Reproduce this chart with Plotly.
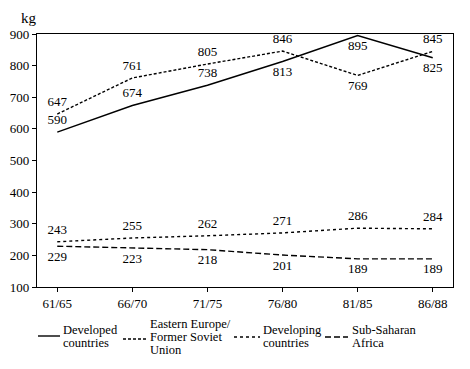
import plotly.graph_objects as go

periods = ["61/65", "66/70", "71/75", "76/80", "81/85", "86/88"]
developed = [590, 674, 738, 813, 895, 825]
eastern_europe = [647, 761, 805, 846, 769, 845]
developing = [243, 255, 262, 271, 286, 284]
sub_saharan = [229, 223, 218, 201, 189, 189]

legend_lines = [
    ["Developed", "countries"],
    ["Eastern Europe/", "Former Soviet", "Union"],
    ["Developing", "countries"],
    ["Sub-Saharan", "Africa"],
]

dev_pos = ["top center", "top center", "top center", "bottom center", "bottom center", "bottom center"]
ee_pos = ["top center", "top center", "top center", "top center", "bottom center", "top center"]
dc_pos = ["top center"] * 6
ssa_pos = ["bottom center"] * 6

NUM_FAMILY = "Liberation Sans Narrow, Liberation Serif, serif"
SERIF = "Liberation Serif, Times New Roman, serif"
num_font = dict(family=NUM_FAMILY, size=13, color="black")

# page has an 8px body margin; figure sized to fit the 470x369 window
OFF = 8
W, H = 470 - 2 * OFF, 369 - 2 * OFF
# plot area in page pixels: x 37..453, y 34..287
L = 37 - OFF
T = 34 - OFF
R = W - (453 - OFF)
B = H - (287 - OFF)
PW, PH = W - L - R, H - T - B

def px_x(px):
    return (px - OFF - L) / PW

def px_y(py):
    return (H - B - (py - OFF)) / PH

dashes = ["solid", "3px,2px", "dot", "6px,3px"]
fig = go.Figure()
series = [
    (developed, dev_pos),
    (eastern_europe, ee_pos),
    (developing, dc_pos),
    (sub_saharan, ssa_pos),
]
for (vals, pos), dash, lines in zip(series, dashes, legend_lines):
    fig.add_trace(go.Scatter(
        x=list(range(len(periods))), y=vals, name=" ".join(lines), mode="lines+markers+text",
        text=[str(v) for v in vals], textposition=pos, textfont=num_font,
        line=dict(color="black", width=1.4, dash=dash),
        marker=dict(size=6, opacity=0, color="black"),
        cliponaxis=False, showlegend=False,
    ))

# manual legend (layout only), page pixel positions
sample_px = [(38, 60, 336), (123, 147, 339), (234, 260, 337), (325, 348, 337)]
text_x = [61, 148, 261, 350]
text_y = [[330, 343], [324, 337, 350], [330, 343], [330, 343]]
shapes = []
annotations = []
for (x0, x1, yy), dash, tx, tys, lines in zip(sample_px, dashes, text_x, text_y, legend_lines):
    shapes.append(dict(type="line", xref="paper", yref="paper",
                       x0=px_x(x0), x1=px_x(x1), y0=px_y(yy), y1=px_y(yy),
                       line=dict(color="black", width=1.4, dash=dash)))
    for ty, ln in zip(tys, lines):
        annotations.append(dict(text=ln, xref="paper", yref="paper", x=px_x(tx), y=px_y(ty),
                                xanchor="left", yanchor="middle", showarrow=False,
                                font=dict(family=SERIF, size=12.5, color="black")))

annotations.append(dict(text="kg", xref="paper", yref="paper", x=px_x(19), y=px_y(18),
                        xanchor="left", yanchor="middle", showarrow=False,
                        font=dict(family=SERIF, size=15, color="black")))

fig.update_layout(
    width=W, height=H,
    margin=dict(l=L, r=R, t=T, b=B),
    paper_bgcolor="white", plot_bgcolor="white",
    showlegend=False,
    xaxis=dict(range=[-0.27, 5.27], tickmode="array", tickvals=list(range(len(periods))),
               ticktext=periods, showline=True, linecolor="black", linewidth=1.2, mirror=True,
               ticks="outside", ticklen=4, tickcolor="black", showgrid=False, zeroline=False,
               tickfont=num_font, automargin=False),
    yaxis=dict(range=[100, 900], dtick=100, showline=True, linecolor="black", linewidth=1.2,
               mirror=True, ticks="outside", ticklen=4, tickcolor="black", showgrid=False,
               zeroline=False, tickfont=num_font, automargin=False),
    shapes=shapes,
    annotations=annotations,
)

fig.write_html("out.html")
